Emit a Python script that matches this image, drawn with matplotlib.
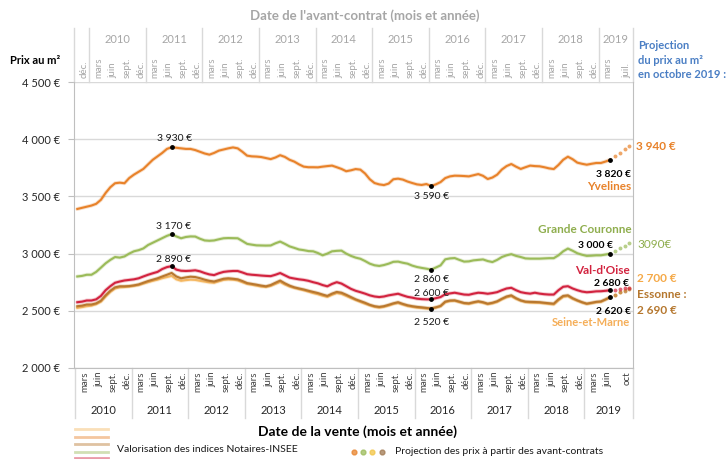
import numpy as np
import matplotlib.pyplot as plt
from matplotlib.lines import Line2D

plt.rcParams['font.family'] = ['Lato', 'DejaVu Sans']

W, H = 727, 459

# prix au m2, un point par mois de vente, janv. 2010 -> juin 2019
yvelines = [3390, 3400, 3410, 3420, 3435, 3470, 3530, 3580, 3615, 3620, 3615, 3660,
            3690, 3715, 3740, 3780, 3820, 3850, 3880, 3915, 3930, 3925, 3920, 3915,
            3915, 3905, 3890, 3875, 3865, 3880, 3900, 3910, 3920, 3928, 3920, 3890,
            3856, 3850, 3848, 3844, 3835, 3826, 3840, 3860, 3845, 3820, 3804, 3780,
            3760, 3755, 3755, 3754, 3760, 3765, 3769, 3755, 3740, 3720, 3728, 3739,
            3734, 3700, 3650, 3617, 3605, 3599, 3612, 3650, 3655, 3647, 3630, 3617,
            3605, 3600, 3608, 3590, 3605, 3625, 3660, 3675, 3681, 3680, 3678, 3675,
            3685, 3695, 3680, 3652, 3665, 3690, 3735, 3765, 3783, 3760, 3740, 3755,
            3769, 3765, 3763, 3755, 3745, 3739, 3775, 3820, 3847, 3825, 3795, 3785,
            3777, 3785, 3792, 3792, 3805, 3820]
grande_couronne = [2800, 2805, 2815, 2815, 2840, 2877, 2915, 2945, 2970, 2965, 2975, 3000,
                   3020, 3030, 3045, 3075, 3095, 3115, 3135, 3155, 3170, 3150, 3134, 3145,
                   3150, 3149, 3130, 3115, 3112, 3115, 3125, 3134, 3136, 3135, 3134, 3110,
                   3085, 3078, 3072, 3071, 3070, 3071, 3090, 3105, 3085, 3063, 3050, 3036,
                   3030, 3022, 3020, 3005, 2985, 3000, 3020, 3024, 3026, 3000, 2980, 2965,
                   2955, 2935, 2912, 2898, 2892, 2900, 2912, 2928, 2930, 2920, 2912, 2895,
                   2883, 2875, 2868, 2860, 2878, 2897, 2950, 2958, 2961, 2945, 2930, 2932,
                   2941, 2945, 2949, 2935, 2926, 2945, 2970, 2985, 2995, 2980, 2970, 2958,
                   2956, 2956, 2956, 2958, 2960, 2960, 2985, 3020, 3044, 3025, 3003, 2990,
                   2980, 2982, 2985, 2985, 2992, 3000]
val_doise = [2575, 2580, 2590, 2590, 2600, 2630, 2680, 2715, 2745, 2756, 2765, 2770,
             2775, 2784, 2800, 2815, 2828, 2840, 2865, 2882, 2890, 2860, 2850, 2848,
             2850, 2854, 2845, 2830, 2818, 2812, 2828, 2840, 2845, 2848, 2848, 2835,
             2820, 2815, 2812, 2808, 2805, 2803, 2815, 2830, 2810, 2790, 2782, 2775,
             2770, 2762, 2750, 2740, 2725, 2714, 2735, 2750, 2738, 2715, 2692, 2675,
             2663, 2650, 2635, 2625, 2620, 2625, 2635, 2642, 2649, 2635, 2622, 2615,
             2606, 2602, 2600, 2600, 2610, 2620, 2645, 2652, 2658, 2650, 2642, 2640,
             2650, 2658, 2655, 2649, 2655, 2663, 2680, 2695, 2701, 2680, 2663, 2655,
             2650, 2658, 2650, 2645, 2642, 2642, 2680, 2710, 2715, 2695, 2680, 2668,
             2662, 2665, 2670, 2671, 2675, 2680]
essonne = [2540, 2545, 2555, 2555, 2565, 2588, 2635, 2675, 2705, 2714, 2714, 2716,
           2722, 2730, 2745, 2760, 2772, 2784, 2800, 2815, 2831, 2800, 2784, 2792,
           2798, 2795, 2785, 2772, 2762, 2756, 2768, 2780, 2784, 2780, 2775, 2760,
           2742, 2735, 2728, 2720, 2714, 2725, 2745, 2764, 2740, 2720, 2705, 2695,
           2686, 2675, 2665, 2655, 2642, 2630, 2650, 2665, 2658, 2640, 2620, 2600,
           2585, 2570, 2552, 2540, 2534, 2540, 2552, 2565, 2575, 2560, 2548, 2540,
           2534, 2530, 2525, 2520, 2530, 2542, 2580, 2590, 2591, 2580, 2568, 2565,
           2575, 2583, 2575, 2562, 2570, 2583, 2605, 2625, 2635, 2610, 2591, 2580,
           2578, 2577, 2575, 2570, 2566, 2562, 2600, 2630, 2635, 2610, 2591, 2575,
           2562, 2570, 2578, 2582, 2600, 2620]
seine_et_marne = [2525, 2532, 2540, 2545, 2558, 2580, 2625, 2665, 2695, 2705, 2708, 2712,
                  2718, 2725, 2738, 2750, 2762, 2772, 2785, 2795, 2805, 2775, 2762, 2768,
                  2772, 2770, 2762, 2755, 2748, 2745, 2758, 2770, 2774, 2772, 2766, 2750,
                  2735, 2728, 2720, 2712, 2708, 2718, 2735, 2752, 2730, 2712, 2700, 2690,
                  2680, 2668, 2655, 2645, 2632, 2622, 2640, 2655, 2648, 2630, 2612, 2595,
                  2578, 2562, 2548, 2535, 2528, 2535, 2546, 2560, 2568, 2555, 2542, 2535,
                  2528, 2525, 2520, 2518, 2528, 2540, 2575, 2585, 2588, 2576, 2565, 2560,
                  2570, 2578, 2570, 2558, 2565, 2578, 2600, 2618, 2628, 2605, 2588, 2577,
                  2572, 2570, 2570, 2565, 2560, 2556, 2592, 2622, 2628, 2605, 2588, 2572,
                  2560, 2566, 2574, 2578, 2598, 2620]

# projection juil. -> oct. 2019
proj_yvelines = [3850, 3880, 3910, 3940]
proj_grande_couronne = [3025, 3050, 3070, 3090]
proj_val_doise = [2685, 2690, 2695, 2700]
proj_essonne = [2640, 2660, 2675, 2690]
proj_seine_et_marne = [2640, 2665, 2685, 2700]

years = list(range(2010, 2020))
months_bottom = ["mars", "juin", "sept.", "déc."]
months_bottom_2019 = ["mars", "juin", "oct"]
months_top = ["mars", "juin", "sept.", "déc."]
months_top_2019 = ["mars", "juil."]
marked = [20, 75, 113]

C_YV = '#E8822A'
C_GC = '#9BBB59'
C_VO = '#D2233F'
C_ES = '#B9782F'
C_SM = '#F5B862'
GRID = '#D9D9D9'


def fmt(v):
    return f"{v:,}".replace(",", " ") + " €"


def px(x, y):
    return x / W, 1 - y / H


fig = plt.figure(figsize=(W / 100, H / 100), dpi=100)
ax = fig.add_axes([74 / W, 1 - 368 / H, (633 - 74) / W, (368 - 82) / H])

n = len(yvelines)
xs = np.arange(n) + 0.5
xp = np.arange(n, n + 4) + 0.5

series = [
    (seine_et_marne, proj_seine_et_marne, C_SM),
    (essonne, proj_essonne, C_ES),
    (val_doise, proj_val_doise, C_VO),
    (grande_couronne, proj_grande_couronne, C_GC),
    (yvelines, proj_yvelines, C_YV),
]
for vals, proj, col in series:
    ax.plot(xs, vals, color=col, lw=2.8, alpha=0.25, solid_capstyle='round')
    ax.plot(xs, vals, color=col, lw=1.5)
    ax.scatter(xp, proj, s=8, color=col, alpha=0.7, zorder=3, linewidths=0)

ax.set_xlim(-0.2, 118.3)
ax.set_ylim(2000, 4500)
ax.set_yticks(range(2000, 4501, 500))
ax.set_yticklabels([fmt(v) for v in range(2000, 4501, 500)])
ax.tick_params(axis='y', labelsize=8, colors='#262626', length=4, color='#BFBFBF', pad=6)
ax.set_xticks([])
ax.yaxis.grid(True, color=GRID, lw=1)
ax.set_axisbelow(True)
for s in ['left', 'bottom', 'right']:
    ax.spines[s].set_color('#BFBFBF')
ax.spines['top'].set_visible(False)

# points remarquables
for vals in [yvelines, grande_couronne, val_doise]:
    ax.scatter(xs[marked], np.array(vals)[marked], s=6, color='black', zorder=5)
ax.scatter(xs[marked[1:]], np.array(essonne)[marked[1:]], s=6, color='black', zorder=5)

lab = dict(textcoords='offset pixels', fontsize=7.5, color='#1a1a1a', ha='center', va='center')
ax.annotate(fmt(yvelines[20]), (xs[20], yvelines[20]), xytext=(3, 9), **lab)
ax.annotate(fmt(grande_couronne[20]), (xs[20], grande_couronne[20]), xytext=(2, 8), **lab)
ax.annotate(fmt(val_doise[20]), (xs[20], val_doise[20]), xytext=(2, 7), **lab)
ax.annotate(fmt(yvelines[75]), (xs[75], yvelines[75]), xytext=(0, -10), **lab)
ax.annotate(fmt(grande_couronne[75]), (xs[75], grande_couronne[75]), xytext=(0, -10), **lab)
ax.annotate(fmt(val_doise[75]), (xs[75], val_doise[75]), xytext=(0, 6), **lab)
ax.annotate(fmt(essonne[75]), (xs[75], essonne[75]), xytext=(0, -14), **lab)

blab = dict(textcoords='offset pixels', fontsize=7.5, color='black', ha='right',
            va='center', fontweight='bold')
ax.annotate(fmt(yvelines[-1]), (xs[-1], yvelines[-1]), xytext=(21, -15), **blab)
ax.annotate(fmt(grande_couronne[-1]), (xs[-1], grande_couronne[-1]), xytext=(3, 8), **blab)
ax.annotate(fmt(val_doise[-1]), (xs[-1], val_doise[-1]), xytext=(19, 7), **blab)
ax.annotate(fmt(essonne[-1]), (xs[-1], essonne[-1]), xytext=(21, -14), **blab)

# axe du bas : date de la vente
xt = ax.get_xaxis_transform()
sep_col = '#D9D9D9'
for i, yr in enumerate(years):
    x0 = 12 * i
    ax.plot([x0, x0], [0, -0.175], transform=xt, clip_on=False, color=sep_col, lw=1)
    labels = months_bottom_2019 if yr == 2019 else months_bottom
    offs = [2, 5, 9] if yr == 2019 else [2, 5, 8, 11]
    for m, o in zip(labels, offs):
        ax.text(x0 + o, -0.012, m, transform=xt, rotation=90, ha='center', va='top',
                fontsize=7, color='#404040')
    xc = x0 + 6 if yr < 2019 else (x0 + 118.3) / 2
    ax.text(xc, -0.148, str(yr), transform=xt, ha='center', va='center', fontsize=8,
            color='#262626')
ax.plot([118.3, 118.3], [0, -0.175], transform=xt, clip_on=False, color=sep_col, lw=1)

# axe du haut : date de l'avant-contrat (3 mois avant)
top_col = '#A6A6A6'
ax.plot([-0.2, -0.2], [1.0, 1.19], transform=xt, clip_on=False, color=sep_col, lw=1)
ax.text(2, 1.013, "déc.", transform=xt, rotation=90, ha='center', va='bottom',
        fontsize=7, color=top_col)
for i, yr in enumerate(years):
    x0 = 12 * i + 3
    ax.plot([x0, x0], [1.0, 1.19], transform=xt, clip_on=False, color=sep_col, lw=1)
    labels = months_top_2019 if yr == 2019 else months_top
    offs = [2, 6] if yr == 2019 else [2, 5, 8, 11]
    for m, o in zip(labels, offs):
        ax.text(x0 + o, 1.013, m, transform=xt, rotation=90, ha='center', va='bottom',
                fontsize=7, color=top_col)
    xc = x0 + 6 if yr < 2019 else (x0 + 118.3) / 2
    ax.text(xc, 1.147, str(yr), transform=xt, ha='center', va='center', fontsize=8,
            color=top_col)
ax.plot([118.3, 118.3], [1.0, 1.19], transform=xt, clip_on=False, color=sep_col, lw=1)

# titres
fig.text(*px(365, 16), "Date de l'avant-contrat (mois et année)", ha='center', va='center',
         fontsize=9.5, fontweight='bold', color=top_col)
fig.text(*px(358, 432), "Date de la vente (mois et année)", ha='center', va='center',
         fontsize=10, fontweight='bold', color='black')
fig.text(*px(10, 60), "Prix au m²", ha='left', va='center', fontsize=8,
         fontweight='bold', color='black')
fig.text(*px(638, 60), "Projection\ndu prix au m²\nen octobre 2019 :", ha='left',
         va='center', fontsize=8, fontweight='bold', color='#4A7EC4', linespacing=1.35)

# libellés à droite
fig.text(*px(636, 146), fmt(proj_yvelines[-1]), ha='left', va='center', fontsize=8.5,
         fontweight='bold', color=C_YV)
fig.text(*px(631, 186), "Yvelines", ha='right', va='center', fontsize=8.5,
         fontweight='bold', color=C_YV)
fig.text(*px(632, 230), "Grande Couronne", ha='right', va='center', fontsize=8.5,
         fontweight='bold', color='#8FAE4E')
fig.text(*px(637, 244), f"{proj_grande_couronne[-1]}€", ha='left', va='center', fontsize=8.5,
         color='#8FAE4E')
fig.text(*px(630, 270), "Val-d'Oise", ha='right', va='center', fontsize=8.5,
         fontweight='bold', color=C_VO)
fig.text(*px(637, 279), fmt(proj_seine_et_marne[-1]), ha='left', va='center', fontsize=8.5,
         fontweight='bold', color='#F5A947')
fig.text(*px(637, 294), "Essonne :", ha='left', va='center', fontsize=8.5,
         fontweight='bold', color='#B5772E')
fig.text(*px(637, 310), fmt(proj_essonne[-1]), ha='left', va='center', fontsize=8.5,
         fontweight='bold', color='#B5772E')
fig.text(*px(630, 322), "Seine-et-Marne", ha='right', va='center', fontsize=8,
         fontweight='bold', color='#F5AE58')

# légende
for yy, col in zip([429, 437, 444, 452, 458], [C_SM, C_YV, C_ES, C_GC, C_VO]):
    (x0, y0), (x1, _) = px(75, yy), px(108, yy)
    fig.add_artist(Line2D([x0, x1], [y0, y0], transform=fig.transFigure, color=col,
                          lw=2, alpha=0.45))
fig.text(*px(117, 449), "Valorisation des indices Notaires-INSEE", ha='left', va='center',
         fontsize=7.5, color='#1a1a1a')
for xx, col in zip([354, 363, 372, 382], [C_YV, C_GC, '#F2C443', '#A07850']):
    fig.add_artist(Line2D([px(xx, 0)[0]], [px(0, 452)[1]], transform=fig.transFigure,
                          marker='o', ms=3.5, color=col, alpha=0.75, lw=0))
fig.text(*px(395, 451), "Projection des prix à partir des avant-contrats", ha='left',
         va='center', fontsize=7.5, color='#1a1a1a')

fig.savefig("out.png", dpi=100)
